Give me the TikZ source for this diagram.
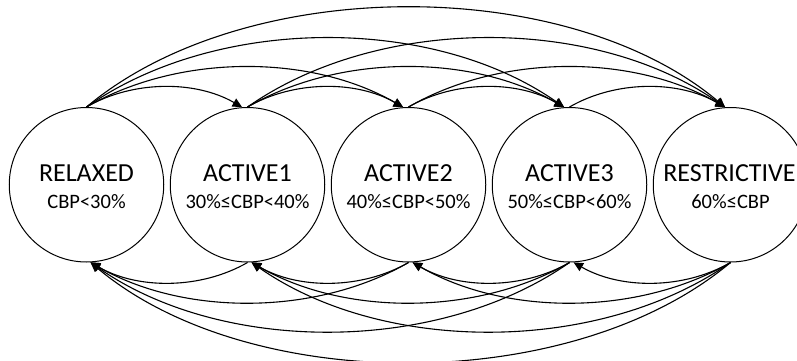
\documentclass[tikz,border=0pt]{standalone}
\usepackage{fontspec}
\setmainfont{Carlito}
\usetikzlibrary{arrows.meta}
\begin{document}
\begin{tikzpicture}[x=1pt,y=1pt,
  state/.style={circle,draw,line width=1pt,minimum size=154.5pt,inner sep=0pt},
  statename/.style={anchor=base,inner sep=0pt,font=\fontsize{26}{28}\selectfont},
  statecbp/.style={anchor=base,inner sep=0pt,font=\fontsize{20.5}{22}\selectfont},
  trans/.style={line width=1.1pt,-{Triangle[width=9pt,length=9.5pt]}},
  % arcs above the states, by number of steps spanned
  up1/.style={out=30,in=150,looseness=0.885},
  up2/.style={out=30,in=150,looseness=0.865},
  up3/.style={out=35,in=145,looseness=0.86},
  up4/.style={out=40,in=140,looseness=0.83},
  % arcs below the states, drawn right to left
  dn1/.style={out=210,in=-30,looseness=0.885},
  dn2/.style={out=210,in=-30,looseness=0.865},
  dn3/.style={out=215,in=-35,looseness=0.86},
  dn4/.style={out=220,in=-40,looseness=0.83},
]
\useasboundingbox (0,0) rectangle (797,360);

% states
\node[state] (s0) at (86.5,175.25) {};
\node[state] (s1) at (247.5,175.25) {};
\node[state] (s2) at (408.5,175.25) {};
\node[state] (s3) at (569.5,175.25) {};
\node[state] (s4) at (730.5,175.25) {};

% labels
\node[statename] (t0) at ([yshift=3pt]s0.center) {RELAXED};
\node[statename] (t1) at ([yshift=3pt]s1.center) {ACTIVE1};
\node[statename] (t2) at ([yshift=3pt]s2.center) {ACTIVE2};
\node[statename] (t3) at ([yshift=3pt]s3.center) {ACTIVE3};
\node[statename] (t4) at ([xshift=-1pt,yshift=3pt]s4.center) {RESTRICTIVE};
\node[statecbp] (r0) at ([yshift=-23.5pt]s0.center) {CBP<30\%};
\node[statecbp] (r1) at ([yshift=-23.5pt]s1.center) {30\%≤CBP<40\%};
\node[statecbp] (r2) at ([yshift=-23.5pt]s2.center) {40\%≤CBP<50\%};
\node[statecbp] (r3) at ([yshift=-23.5pt]s3.center) {50\%≤CBP<60\%};
\node[statecbp] (r4) at ([yshift=-23.5pt]s4.center) {60\%≤CBP};

% transitions to a higher level
\draw[trans] (s0.north) to[up1] (s1.94);
\draw[trans] (s1.north) to[up1] (s2.94);
\draw[trans] (s2.north) to[up1] (s3.94);
\draw[trans] (s3.north) to[up1] (s4.94);
\draw[trans] (s0.north) to[up2] (s2.94);
\draw[trans] (s1.north) to[up2] (s3.94);
\draw[trans] (s2.north) to[up2] (s4.94);
\draw[trans] (s0.north) to[up3] (s3.94);
\draw[trans] (s1.north) to[up3] (s4.94);
\draw[trans] (s0.north) to[up4] (s4.94);

% transitions to a lower level
\draw[trans] (s1.south) to[dn1] (s0.-87);
\draw[trans] (s2.south) to[dn1] (s1.-87);
\draw[trans] (s3.south) to[dn1] (s2.-87);
\draw[trans] (s4.south) to[dn1] (s3.-87);
\draw[trans] (s2.south) to[dn2] (s0.-87);
\draw[trans] (s3.south) to[dn2] (s1.-87);
\draw[trans] (s4.south) to[dn2] (s2.-87);
\draw[trans] (s3.south) to[dn3] (s0.-87);
\draw[trans] (s4.south) to[dn3] (s1.-87);
\draw[trans] (s4.south) to[dn4] (s0.-87);
\end{tikzpicture}
\end{document}
